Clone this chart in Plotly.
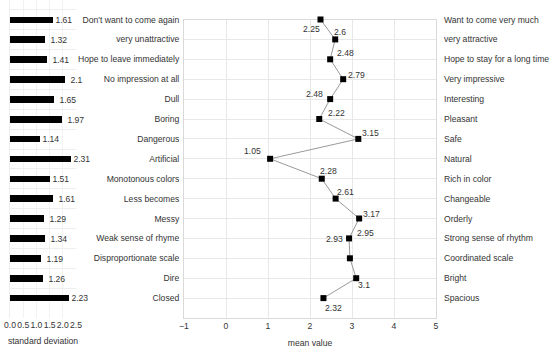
import plotly.graph_objects as go

left_labels = ["Don't want to come again", "very unattractive", "Hope to leave immediately",
               "No impression at all", "Dull", "Boring", "Dangerous", "Artificial",
               "Monotonous colors", "Less becomes", "Messy", "Weak sense of rhyme",
               "Disproportionate scale", "Dire", "Closed"]
right_labels = ["Want to come very much", "very attractive", "Hope to stay for a long time",
                "Very impressive", "Interesting", "Pleasant", "Safe", "Natural",
                "Rich in color", "Changeable", "Orderly", "Strong sense of rhythm",
                "Coordinated scale", "Bright", "Spacious"]
std_dev = [1.61, 1.32, 1.41, 2.1, 1.65, 1.97, 1.14, 2.31, 1.51, 1.61, 1.29, 1.34, 1.19, 1.26, 2.23]
mean_val = [2.25, 2.6, 2.48, 2.79, 2.48, 2.22, 3.15, 1.05, 2.28, 2.61, 3.17, 2.93, 2.95, 3.1, 2.32]

# label offsets (pixels) for mean-value labels
label_dx = [-9, 4.5, 15.5, 13, -15.5, 17, 12, -17.5, 6.5, 10, 12, -14.5, 15.5, 7.5, 10.5]
label_dy = [-9.5, 7.5, 6.5, 4, 5, 6, 6, 8, 8, 7, 5, -1, 25, -7, -10]

idx = list(range(len(left_labels)))
W, H = 550, 351
FONT = "Liberation Sans, Arial, sans-serif"
TXT = "#333333"
FS = 8.6

fig = go.Figure()
fig.add_trace(go.Bar(
    x=std_dev, y=idx, orientation="h", width=0.33,
    marker=dict(color="black", line=dict(width=0)),
    text=["\u00a0" + str(v) for v in std_dev], textposition="outside", cliponaxis=False,
    constraintext="none",
    textfont=dict(size=FS, color=TXT, family=FONT),
    xaxis="x", yaxis="y", showlegend=False))
fig.add_trace(go.Scatter(
    x=mean_val, y=idx, mode="lines+markers",
    line=dict(color="#999999", width=1),
    marker=dict(symbol="square", size=6, color="black"),
    xaxis="x2", yaxis="y2", showlegend=False, cliponaxis=False))
fig.add_trace(go.Scatter(
    x=mean_val, y=idx, mode="markers", opacity=0,
    xaxis="x2", yaxis="y3", showlegend=False, hoverinfo="skip"))

annotations = []
for i, v in enumerate(mean_val):
    annotations.append(dict(x=v, y=i, xref="x2", yref="y2", text=str(v), showarrow=False,
                            xshift=label_dx[i], yshift=label_dy[i],
                            font=dict(size=FS, color=TXT, family=FONT)))

fig.update_layout(
    width=W, height=H, margin=dict(l=0, r=0, t=0, b=0, autoexpand=False),
    paper_bgcolor="white", plot_bgcolor="white",
    font=dict(family=FONT, size=FS, color=TXT),
    bargap=0,
    xaxis=dict(domain=[10 / W, 76 / W], range=[0, 2.5], tickvals=[0, 0.5, 1, 1.5, 2, 2.5],
               ticktext=["0.0", "0.5", "1.0", "1.5", "2.0", "2.5"], showgrid=True,
               gridcolor="#f2f2f2", zeroline=False, showline=False, anchor="y",
               tickangle=0, automargin=False,
               title=dict(text="standard deviation", standoff=9, font=dict(size=FS, color=TXT)),
               tickfont=dict(size=FS, color=TXT)),
    yaxis=dict(domain=[1 - 318 / H, 1.0], range=[15, -1], tickvals=[i - 0.5 for i in range(15)] + [15],
               showticklabels=False, showgrid=True, gridcolor="#eeeeee", zeroline=False,
               showline=True, linecolor="#eeeeee", anchor="x", automargin=False,
               layer="below traces"),
    xaxis2=dict(domain=[184 / W, 436 / W], range=[-1, 5], dtick=1, showgrid=True,
                gridcolor="#e8e8e8", zeroline=False, showline=True, linecolor="#d9d9d9",
                mirror=True, anchor="y2", tickangle=0, automargin=False,
                layer="below traces",
                title=dict(text="mean value", standoff=9, font=dict(size=FS, color=TXT)),
                tickfont=dict(size=FS, color=TXT)),
    yaxis2=dict(domain=[1 - 318 / H, 1 - 19.5 / H], range=[15, 0], tickvals=idx,
                ticktext=left_labels, showgrid=True, gridcolor="#e8e8e8", zeroline=False,
                showline=True, linecolor="#d9d9d9", mirror=True, anchor="x2",
                ticks="", ticklabelstandoff=2, automargin=False, layer="below traces",
                tickfont=dict(size=FS, color=TXT)),
    yaxis3=dict(overlaying="y2", side="right", range=[15, 0], tickvals=idx,
                ticktext=right_labels, showgrid=False, zeroline=False, showline=False,
                anchor="x2", ticks="", ticklabelstandoff=7, automargin=False,
                tickfont=dict(size=FS, color=TXT)),
    annotations=annotations,
)

fig.write_html("out.html", config={"displayModeBar": False},
               post_script="document.body.style.margin='0';document.body.style.padding='0';")
